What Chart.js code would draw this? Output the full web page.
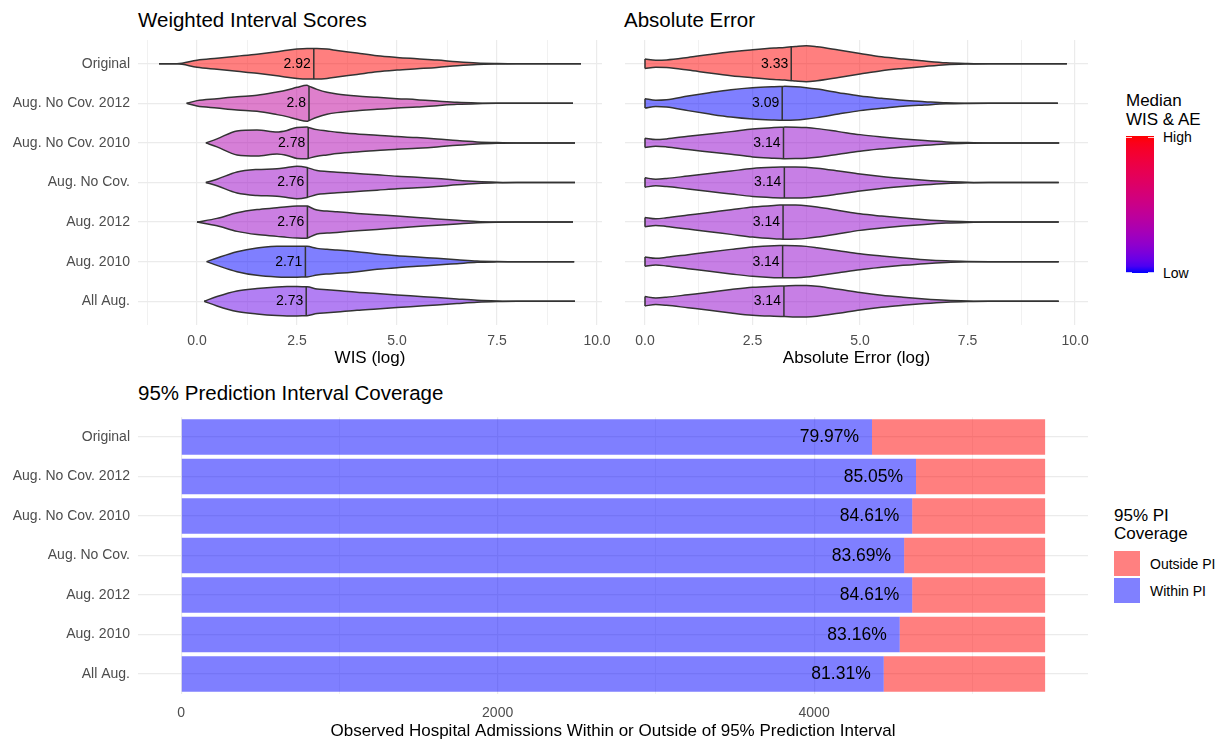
<!DOCTYPE html>
<html>
<head>
<meta charset="utf-8">
<script src="https://cdn.jsdelivr.net/npm/chart.js@4.4.1/dist/chart.umd.min.js"></script>
<style>
  body { margin: 0; background: #fff; width: 1221px; height: 743px; position: relative; overflow: hidden;
         font-family: "Liberation Sans", Arial, sans-serif; color: #000; }
  canvas { position: absolute; }
  .t { position: absolute; white-space: nowrap; line-height: 1; }
  .lg { position: absolute; white-space: nowrap; font-size: 17px; line-height: 18.4px; }
  .key { position: absolute; width: 26px; height: 25px; }
  .tick { position: absolute; height: 1px; width: 5.6px; background: rgba(255,255,255,0.8); }
</style>
</head>
<body>
<div class="t" style="left:138px;top:9.6px;font-size:20.5px">Weighted Interval Scores</div>
<div class="t" style="left:624px;top:9.6px;font-size:20.5px">Absolute Error</div>
<div class="t" style="left:138px;top:382.6px;font-size:20.5px">95% Prediction Interval Coverage</div>

<canvas id="wis" width="620" height="372" style="left:0;top:0"></canvas>
<canvas id="ae" width="488" height="372" style="left:612px;top:0"></canvas>
<canvas id="cov" width="1100" height="343" style="left:0;top:400px"></canvas>

<div class="lg" style="left:1126px;top:92.2px">Median<br>WIS &amp; AE</div>
<div id="bar" style="position:absolute;left:1126px;top:136px;width:28px;height:137px"></div>
<div class="tick" style="left:1126px;top:136.5px"></div>
<div class="tick" style="left:1148.4px;top:136.5px"></div>
<div class="tick" style="left:1126px;top:271.5px"></div>
<div class="tick" style="left:1148.4px;top:271.5px"></div>
<div class="t" style="left:1163px;top:130px;font-size:14px">High</div>
<div class="t" style="left:1163px;top:266px;font-size:14px">Low</div>

<div class="lg" style="left:1114px;top:506.6px">95% PI<br>Coverage</div>
<div class="key" style="left:1114px;top:551px;background:#FF8080"></div>
<div class="key" style="left:1114px;top:578px;background:#8080FF"></div>
<div class="t" style="left:1150px;top:556.5px;font-size:14px">Outside PI</div>
<div class="t" style="left:1150px;top:583.5px;font-size:14px">Within PI</div>

<script>
const models = ['Original', 'Aug. No Cov. 2012', 'Aug. No Cov. 2010', 'Aug. No Cov.', 'Aug. 2012', 'Aug. 2010', 'All Aug.']

// WIS (log) violins: medians, range and density half-widths
const wisMedian = [2.92, 2.8, 2.78, 2.76, 2.76, 2.71, 2.73]
const wisMin = [-0.95, -0.26, 0.22, 0.22, 0.0, 0.24, 0.18]
const wisMax = [9.6, 9.4, 9.45, 9.45, 9.4, 9.43, 9.45]
const wisGrid = [-1, -0.5, 0, 0.5, 1, 1.5, 2, 2.25, 2.5, 2.75, 3, 3.25, 3.5, 4, 4.5, 5, 5.5, 6, 6.5, 7, 7.5, 8]
const wisDensOriginal = [0, 0, 3.5, 5.5, 7.5, 9.5, 12, 13.5, 14.7, 15.3, 15.3, 14.7, 13.3, 10.7, 8, 6.3, 5, 3.7, 2, 0.7, 0.2, 0]
const wisDensNoCov2012 = [0, 0, 2.7, 4.7, 6.7, 8, 11.3, 13.3, 16, 18, 14, 11, 9.3, 7.3, 6, 4.7, 3.7, 2.3, 1, 0.3, 0, 0]
const wisDensNoCov2010 = [0, 0, 0, 4, 12, 13, 11, 12.5, 15.5, 15.8, 13.3, 12, 10.7, 9, 7.7, 6.3, 5.3, 4, 2.3, 1, 0.3, 0]
const wisDensNoCov = [0, 0, 0, 3.3, 10.5, 13, 13.7, 15, 16.3, 15, 12, 11, 10.3, 9, 7.7, 6.3, 5.3, 4, 2.3, 1, 0.3, 0]
const wisDensAug2012 = [0, 0, 0, 3.7, 9.3, 12.5, 14.3, 15.3, 16, 16.2, 12, 11, 10.3, 8.7, 7.3, 6, 4.5, 3.2, 1.8, 0.7, 0.2, 0]
const wisDensAug2010 = [0, 0, 0, 3.7, 10, 13.7, 15.3, 15.5, 15.5, 15.3, 13.3, 12.3, 11.7, 10, 7.7, 6, 4.7, 3.3, 2, 0.7, 0.2, 0]
const wisDensAllAug = [0, 0, 0, 4.7, 10.3, 12.7, 14.3, 14.7, 14.7, 14.5, 12.3, 11.5, 10.7, 9, 7.7, 6.3, 5, 3.7, 2.3, 1, 0.3, 0]
const wisTicks = [-1.25, 0, 1.25, 2.5, 3.75, 5, 6.25, 7.5, 8.75, 10]

// Absolute Error (log) violins
const aeMedian = [3.33, 3.09, 3.14, 3.14, 3.14, 3.14, 3.14]
const aeLine = [3.40, 3.19, 3.22, 3.24, 3.21, 3.20, 3.23]
const aeMin = [0, 0, 0, 0, 0, 0, 0]
const aeMax = [9.81, 9.6, 9.63, 9.62, 9.62, 9.62, 9.62]
const aeGrid = [0, 0.25, 0.5, 1, 1.5, 2, 2.5, 3, 3.25, 3.5, 3.75, 4, 4.5, 5, 5.5, 6, 6.5, 7, 7.5, 8]
const aeDensOriginal = [4.7, 3.5, 3.8, 6.3, 9.3, 12, 14, 15.7, 16.3, 17.3, 18, 17, 13.7, 10.3, 7, 4.7, 2.7, 1, 0.3, 0]
const aeDensNoCov2012 = [4.7, 3.2, 3.7, 7.3, 10.7, 13.7, 15.7, 16.7, 17, 16.7, 15.7, 14.3, 10.7, 7.3, 5, 3, 1.7, 0.5, 0.1, 0]
const aeDensNoCov2010 = [4.7, 3.3, 4, 6.7, 9, 11.3, 14, 15.3, 15.8, 15.7, 15.3, 14.3, 11.3, 8.3, 6, 4, 2.3, 1, 0.3, 0]
const aeDensNoCov = [4.7, 3.3, 4, 6.5, 9, 11.5, 14, 15.2, 15.5, 15.5, 15.3, 14.3, 11.5, 8.5, 6, 4, 2.3, 1, 0.3, 0]
const aeDensAug2012 = [4.7, 3.3, 4.3, 7, 9.7, 12.3, 15, 16.7, 17.2, 17, 16.3, 15, 11.7, 8.3, 6, 4, 2.3, 1, 0.3, 0]
const aeDensAug2010 = [4.7, 3.3, 4.3, 7, 9.7, 12.3, 14.7, 16, 16.2, 16, 15.3, 14, 11, 8, 5.7, 3.7, 2, 0.8, 0.2, 0]
const aeDensAllAug = [4.7, 3.3, 4, 6.5, 9, 11.7, 14, 15, 15.3, 15.7, 15.7, 15, 12, 8.7, 6, 4, 2.3, 1, 0.3, 0]
const aeTicks = [0, 1.25, 2.5, 3.75, 5, 6.25, 7.5, 8.75, 10]

// 95% PI coverage
const coveragePct = [79.97, 85.05, 84.61, 83.69, 84.61, 83.16, 81.31]
const totalObserved = 5460
const covTicks = [0, 1000, 2000, 3000, 4000, 5000]

const DENS_SCALE = 1 / 39.6 // density reading -> category units
const FONT = '"Liberation Sans", Arial, sans-serif'
Chart.defaults.font.family = FONT

// colour scale: blue (low) -> red (high), interpolated in CIELAB like ggplot
function lin (c) { c /= 255; return c <= 0.04045 ? c / 12.92 : Math.pow((c + 0.055) / 1.055, 2.4) }
function toLab (rgb) {
  const [r, g, b] = rgb.map(lin)
  const X = (0.4124 * r + 0.3576 * g + 0.1805 * b) / 0.95047
  const Y = 0.2126 * r + 0.7152 * g + 0.0722 * b
  const Z = (0.0193 * r + 0.1192 * g + 0.9505 * b) / 1.08883
  const f = t => t > 0.008856 ? Math.cbrt(t) : 7.787 * t + 16 / 116
  return [116 * f(Y) - 16, 500 * (f(X) - f(Y)), 200 * (f(Y) - f(Z))]
}
function fromLab ([L, a, bb]) {
  const fy = (L + 16) / 116; const fx = fy + a / 500; const fz = fy - bb / 200
  const inv = t => t * t * t > 0.008856 ? t * t * t : (t - 16 / 116) / 7.787
  const X = inv(fx) * 0.95047; const Y = inv(fy); const Z = inv(fz) * 1.08883
  const r = 3.2406 * X - 1.5372 * Y - 0.4986 * Z
  const g = -0.9689 * X + 1.8758 * Y + 0.0415 * Z
  const b = 0.0557 * X - 0.2040 * Y + 1.0570 * Z
  const gam = c => { c = Math.min(1, Math.max(0, c)); return Math.round(255 * (c <= 0.0031308 ? 12.92 * c : 1.055 * Math.pow(c, 1 / 2.4) - 0.055)) }
  return [gam(r), gam(g), gam(b)]
}
const LOW = toLab([0, 0, 255])
const HIGH = toLab([255, 0, 0])
function ramp (t) { return fromLab(LOW.map((v, k) => v + t * (HIGH[k] - v))) }

// gradient legend
const stops = []
for (let k = 0; k <= 20; k++) stops.push(`rgb(${ramp(k / 20).join(',')}) ${k * 5}%`)
document.getElementById('bar').style.background = `linear-gradient(to top, ${stops.join(',')})`

function violinOutline (grid, dens, lo, hi, med) {
  const at = x => {
    for (let k = 1; k < grid.length; k++) {
      if (x <= grid[k]) { const t = (x - grid[k - 1]) / (grid[k] - grid[k - 1]); return dens[k - 1] + t * (dens[k] - dens[k - 1]) }
    }
    return 0
  }
  const pts = [{ x: lo, d: lo === grid[0] ? dens[0] : 0 }]
  grid.forEach((g, k) => { if (g > lo && g < hi && Math.abs(g - med) > 1e-6) pts.push({ x: g, d: dens[k] }) })
  pts.push({ x: hi, d: 0 })
  pts.push({ x: med, d: at(med), med: true })
  pts.sort((a, b) => a.x - b.x)
  return pts
}

const outline = { borderColor: '#333333', borderWidth: 1.5, pointRadius: 0, pointHitRadius: 0, cubicInterpolationMode: 'monotone' }
const seg = { borderColor: '#333333', borderWidth: 1.5, pointRadius: 0, tension: 0, fill: false, order: -1 }

const medianText = {
  id: 'medianText',
  afterDatasetsDraw (chart, args, opts) {
    const { ctx, scales: { x, y } } = chart
    ctx.save()
    ctx.font = '14px ' + FONT
    ctx.fillStyle = '#000'
    ctx.textAlign = 'right'
    ctx.textBaseline = 'middle'
    opts.labels.forEach((v, i) => {
      ctx.fillText(String(v), x.getPixelForValue(opts.pos[i]) - 3, y.getPixelForValue(i + 1))
    })
    ctx.restore()
  }
}

function isMajor (v, step) { return Math.abs(v / step - Math.round(v / step)) < 1e-9 }

function violinChart (id, p) {
  const datasets = []
  const lo = Math.min(...p.label); const hi = Math.max(...p.label)
  models.forEach((m, i) => {
    const c = i + 1
    const pts = violinOutline(p.grid, p.dens[i], p.min[i], p.max[i], p.pos[i])
    const rgb = ramp((p.label[i] - lo) / (hi - lo))
    datasets.push({ ...outline, fill: false, data: pts.map(q => ({ x: q.x, y: c - q.d * DENS_SCALE })) })
    datasets.push({ ...outline, fill: '-1', backgroundColor: `rgba(${rgb.join(',')},0.5)`, data: pts.map(q => ({ x: q.x, y: c + q.d * DENS_SCALE })) })
    const mh = pts.find(q => q.med).d * DENS_SCALE
    datasets.push({ ...seg, data: [{ x: p.pos[i], y: c - mh }, { x: p.pos[i], y: c + mh }] })
    if (pts[0].d > 0) {
      const eh = pts[0].d * DENS_SCALE
      datasets.push({ ...seg, data: [{ x: pts[0].x, y: c - eh }, { x: pts[0].x, y: c + eh }] })
    }
  })
  return new Chart(document.getElementById(id), {
    type: 'line',
    data: { datasets },
    plugins: [medianText],
    options: {
      responsive: false,
      animation: false,
      events: [],
      layout: { padding: { top: 40, right: p.padRight, bottom: 0, left: 0 } },
      plugins: { legend: { display: false }, tooltip: { enabled: false }, medianText: { labels: p.label, pos: p.pos } },
      scales: {
        x: {
          type: 'linear',
          min: p.xMin,
          max: p.xMax,
          afterBuildTicks: s => { s.ticks = p.ticks.map(v => ({ value: v })) },
          ticks: { callback: v => isMajor(v, 2.5) ? v.toFixed(1) : '', color: '#4D4D4D', font: { size: 14 }, padding: 7.5, maxRotation: 0, autoSkip: false },
          grid: {
            drawTicks: false,
            color: '#EBEBEB',
            lineWidth: ctx => ctx.tick && isMajor(ctx.tick.value, 2.5) ? 1.2 : 0.7
          },
          border: { display: false },
          title: { display: true, text: p.xTitle, color: '#000', font: { size: 17 }, padding: { top: 0, bottom: 3.5 } },
          afterFit: s => { s.height = 47 }
        },
        y: {
          type: 'linear',
          min: 0.4,
          max: 7.6,
          reverse: true,
          afterBuildTicks: s => { s.ticks = models.map((m, i) => ({ value: i + 1 })) },
          ticks: { display: p.showY, callback: v => models[v - 1], color: '#4D4D4D', font: { size: 14 }, padding: 8, autoSkip: false },
          grid: { drawTicks: false, color: '#EBEBEB', lineWidth: 1.2 },
          border: { display: false },
          afterFit: s => { s.width = p.yWidth }
        }
      }
    }
  })
}

violinChart('wis', {
  grid: wisGrid,
  dens: [wisDensOriginal, wisDensNoCov2012, wisDensNoCov2010, wisDensNoCov, wisDensAug2012, wisDensAug2010, wisDensAllAug],
  min: wisMin, max: wisMax, label: wisMedian, pos: wisMedian,
  ticks: wisTicks, xMin: -1.475, xMax: 10.125, xTitle: 'WIS (log)',
  showY: true, yWidth: 138, padRight: 18
})

violinChart('ae', {
  grid: aeGrid,
  dens: [aeDensOriginal, aeDensNoCov2012, aeDensNoCov2010, aeDensNoCov, aeDensAug2012, aeDensAug2010, aeDensAllAug],
  min: aeMin, max: aeMax, label: aeMedian, pos: aeLine,
  ticks: aeTicks, xMin: -0.465, xMax: 10.3, xTitle: 'Absolute Error (log)',
  showY: false, yWidth: 13, padRight: 12
})

// coverage bars
const within = coveragePct.map(p => Math.round(p / 100 * totalObserved))
const outside = within.map(w => totalObserved - w)

const barText = {
  id: 'barText',
  afterDatasetsDraw (chart) {
    const { ctx, scales: { x, y } } = chart
    ctx.save()
    ctx.font = '17.5px ' + FONT
    ctx.fillStyle = '#000'
    ctx.textAlign = 'right'
    ctx.textBaseline = 'middle'
    coveragePct.forEach((p, i) => {
      ctx.fillText(p.toFixed(2) + '%', x.getPixelForValue(within[i]) - 13, y.getPixelForValue(i) + 0.5)
    })
    ctx.restore()
  }
}

new Chart(document.getElementById('cov'), {
  type: 'bar',
  data: {
    labels: models,
    datasets: [
      { label: 'Within PI', data: within, backgroundColor: 'rgba(0,0,255,0.5)' },
      { label: 'Outside PI', data: outside, backgroundColor: 'rgba(255,0,0,0.5)' }
    ]
  },
  plugins: [barText],
  options: {
    indexAxis: 'y',
    responsive: false,
    animation: false,
    events: [],
    datasets: { bar: { barPercentage: 0.9, categoryPercentage: 1, borderWidth: 0 } },
    layout: { padding: { top: 17.25, right: 12, bottom: 0, left: 0 } },
    plugins: { legend: { display: false }, tooltip: { enabled: false } },
    scales: {
      x: {
        type: 'linear',
        stacked: true,
        min: -273,
        max: 5731,
        afterBuildTicks: s => { s.ticks = covTicks.map(v => ({ value: v })) },
        ticks: { callback: v => v % 2000 === 0 ? String(v) : '', color: '#4D4D4D', font: { size: 14 }, padding: 11, maxRotation: 0, autoSkip: false },
        grid: { drawTicks: false, color: '#EBEBEB', lineWidth: ctx => ctx.tick && ctx.tick.value % 2000 === 0 ? 1.2 : 0.7 },
        border: { display: false },
        title: { display: true, text: 'Observed Hospital Admissions Within or Outside of 95% Prediction Interval', color: '#000', font: { size: 17 }, padding: { top: 0, bottom: 1.2 } },
        afterFit: s => { s.height = 49.25 }
      },
      y: {
        stacked: true,
        ticks: { color: '#4D4D4D', font: { size: 14 }, padding: 8, autoSkip: false },
        grid: { offset: false, drawTicks: false, color: '#EBEBEB', lineWidth: 1.2 },
        border: { display: false },
        afterFit: s => { s.width = 138 }
      }
    }
  }
})
</script>
</body>
</html>
